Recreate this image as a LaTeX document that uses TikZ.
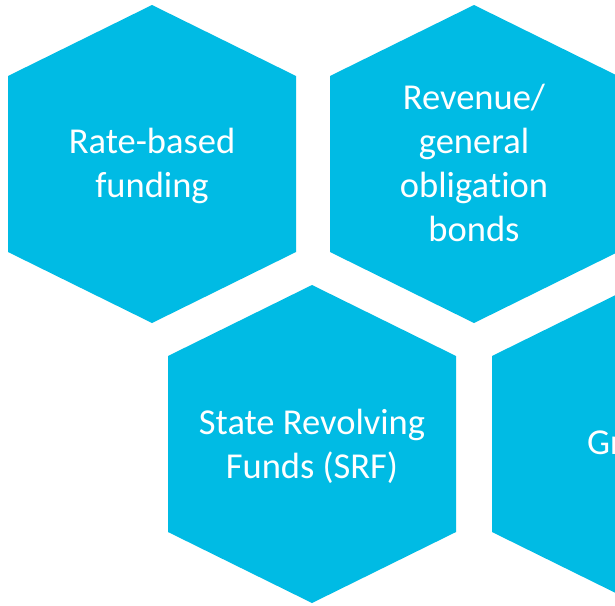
\documentclass[tikz,border=0pt]{standalone}
\usepackage{fontspec}
\setmainfont{Carlito}[RawFeature={-liga;-dlig;-clig;-calt;-hlig}]
\definecolor{hexcyan}{RGB}{0,187,228}
\tikzset{
  hexfill/.style={fill=hexcyan, draw=none},
  hextext/.style={text=white, align=center, anchor=base, inner sep=0pt,
    font=\fontsize{36.5pt}{44pt}\selectfont},
}
\newcommand{\hexat}[2]{%
  \fill[hexfill] (#1,#2) ++(0,159) -- ++(144,-71) -- ++(0,-176) -- ++(-144,-71)
    -- ++(-144,71) -- ++(0,176) -- cycle;}
\begin{document}
\begin{tikzpicture}[x=1pt,y=1pt]
  \useasboundingbox (0,0) rectangle (615,-605);
  \fill[white] (0,0) rectangle (615,-605);
  \clip (0,0) rectangle (615,-605);
  \hexat{152}{-164}
  \hexat{474}{-164}
  \hexat{312}{-444}
  \hexat{636}{-444}
  \node[hextext] (rate) at (152,-197) {Rate-based\\funding};
  \node[hextext] (bonds) at (474,-241) {Revenue/\\general\\obliga\kern0pt tion\\bonds};
  \node[hextext] (srf) at (312,-478) {State Revolving\\Funds (SRF)};
  \node[hextext, anchor=base west] (grants) at (587,-454) {Gr};
\end{tikzpicture}
\end{document}
